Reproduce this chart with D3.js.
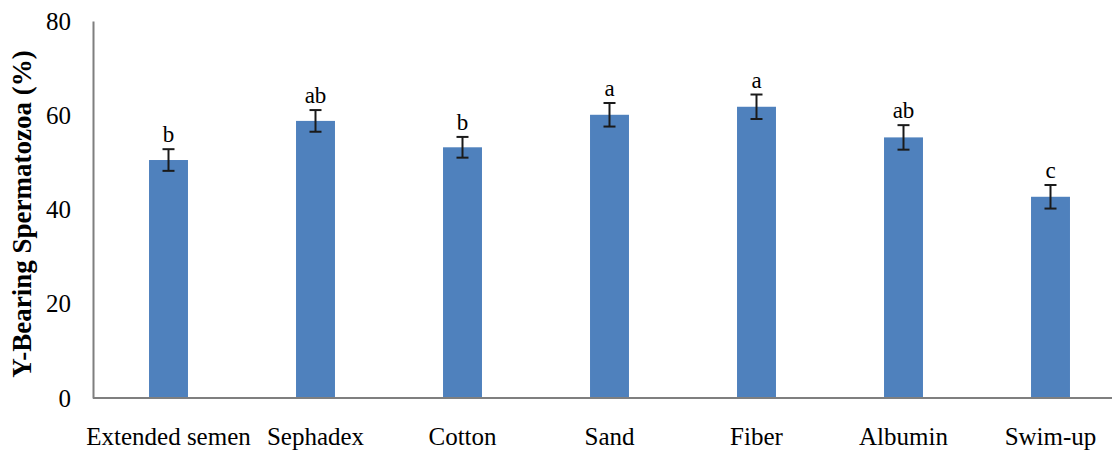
<!DOCTYPE html>
<html lang="en">
<head>
<meta charset="utf-8">
<title>Y-bearing spermatozoa</title>
<script src="https://cdn.jsdelivr.net/npm/d3@7"></script>
<style>
  body { margin: 0; background: #fff; }
  svg text { font-family: "Liberation Serif", "Times New Roman", serif; fill: #000; }
</style>
</head>
<body>
<script>
// data
var methods = ["Extended semen", "Sephadex", "Cotton", "Sand", "Fiber", "Albumin", "Swim-up"];
var means = [50.5, 58.8, 53.2, 60.1, 61.8, 55.3, 42.7];
var errors = [2.3, 2.3, 2.2, 2.5, 2.6, 2.6, 2.5];
var letters = ["b", "ab", "b", "a", "a", "ab", "c"];
var yTicks = [0, 20, 40, 60, 80];

var w = 1114, h = 457;

var svg = d3.select("body").append("svg")
    .attr("width", w)
    .attr("height", h);

var x = d3.scaleBand()
    .domain(methods)
    .range([95, 1124])
    .paddingInner(0.735)
    .paddingOuter(0.3675);

var y = d3.scaleLinear()
    .domain([0, 80])
    .range([398, 21]);

// bars
svg.selectAll("rect.bar")
    .data(methods)
    .enter()
    .append("rect")
    .attr("class", "bar")
    .attr("x", function(d){ return x(d); })
    .attr("width", x.bandwidth())
    .attr("y", function(d, i){ return y(means[i]); })
    .attr("height", function(d, i){ return y(0) - y(means[i]); })
    .attr("fill", "#4f81bd");

// error bars
var eb = svg.selectAll("g.err")
    .data(methods)
    .enter()
    .append("g")
    .attr("class", "err")
    .attr("stroke", "#1a1a1a")
    .attr("stroke-width", 2);

eb.append("line")
    .attr("x1", function(d){ return x(d) + x.bandwidth() / 2; })
    .attr("x2", function(d){ return x(d) + x.bandwidth() / 2; })
    .attr("y1", function(d, i){ return y(means[i] + errors[i]); })
    .attr("y2", function(d, i){ return y(means[i] - errors[i]); });

eb.append("line")
    .attr("x1", function(d){ return x(d) + x.bandwidth() / 2 - 6; })
    .attr("x2", function(d){ return x(d) + x.bandwidth() / 2 + 6; })
    .attr("y1", function(d, i){ return y(means[i] + errors[i]); })
    .attr("y2", function(d, i){ return y(means[i] + errors[i]); });

eb.append("line")
    .attr("x1", function(d){ return x(d) + x.bandwidth() / 2 - 6; })
    .attr("x2", function(d){ return x(d) + x.bandwidth() / 2 + 6; })
    .attr("y1", function(d, i){ return y(means[i] - errors[i]); })
    .attr("y2", function(d, i){ return y(means[i] - errors[i]); });

// significance letters
svg.selectAll("text.letter")
    .data(methods)
    .enter()
    .append("text")
    .attr("class", "letter")
    .attr("x", function(d){ return x(d) + x.bandwidth() / 2; })
    .attr("y", function(d, i){ return y(means[i] + errors[i]) - 7; })
    .attr("text-anchor", "middle")
    .style("font-size", "23px")
    .text(function(d, i){ return letters[i]; });

// y axis
var yAxis = svg.append("g")
    .attr("transform", "translate(93,0)")
    .call(d3.axisLeft(y).tickValues(yTicks).tickSize(0).tickPadding(22));
yAxis.select(".domain").attr("stroke", "#7f7f7f").attr("stroke-width", 2);
yAxis.selectAll("text")
    .style("font-size", "25px")
    .style("font-family", "'Liberation Serif', serif");

// x axis
var xAxis = svg.append("g")
    .attr("transform", "translate(0,398)")
    .call(d3.axisBottom(x).tickSize(0).tickPadding(29));
xAxis.select(".domain")
    .attr("d", "M93,0H1112")
    .attr("stroke", "#7f7f7f")
    .attr("stroke-width", 2);
xAxis.selectAll("text")
    .style("font-size", "25px")
    .style("font-family", "'Liberation Serif', serif");

// y title
svg.append("text")
    .attr("transform", "translate(31,214) rotate(-90)")
    .attr("text-anchor", "middle")
    .style("font-size", "27px")
    .style("font-weight", "bold")
    .text("Y-Bearing Spermatozoa (%)");
</script>
</body>
</html>
